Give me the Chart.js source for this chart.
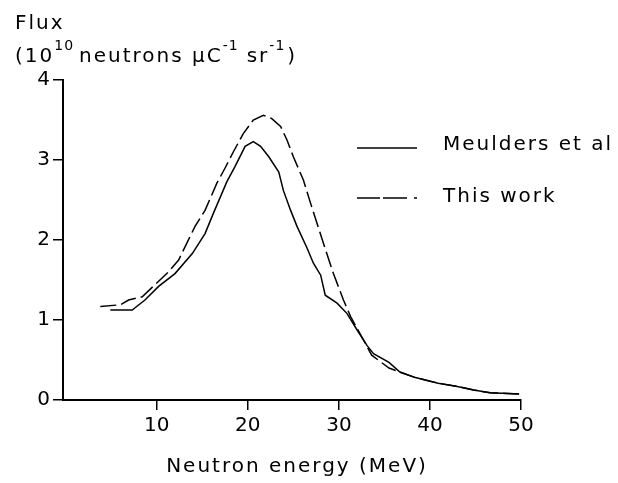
<!DOCTYPE html>
<html>
<head>
<meta charset="utf-8">
<script src="https://cdn.jsdelivr.net/npm/chart.js@4.4.1/dist/chart.umd.min.js"></script>
<style>
  html, body { margin: 0; padding: 0; background: #fff; }
  canvas { display: block; }
</style>
</head>
<body>
<canvas id="flux" width="618" height="483"></canvas>
<script>
// values
var meuldersEnergy = [4.9, 7.3, 8.7, 10.2, 12.0, 13.9, 15.3, 16.2, 17.7, 18.6, 19.7, 20.6, 21.4, 22.3, 23.4, 23.9, 24.7, 25.4, 26.5, 27.2, 28.0, 28.5, 29.8, 30.9, 32.0, 33.1, 33.8, 35.5, 36.7, 38.4, 40.9, 43.0, 44.8, 46.6, 49.8];
var meuldersFlux = [1.125, 1.125, 1.25, 1.42, 1.58, 1.83, 2.08, 2.33, 2.73, 2.92, 3.17, 3.23, 3.17, 3.04, 2.85, 2.62, 2.37, 2.17, 1.90, 1.71, 1.56, 1.31, 1.21, 1.08, 0.875, 0.68, 0.58, 0.47, 0.35, 0.28, 0.21, 0.17, 0.125, 0.09, 0.075];

var thisWorkEnergy = [3.8, 6.0, 6.9, 8.4, 9.6, 11.1, 12.4, 13.3, 14.2, 15.3, 16.6, 17.5, 18.4, 19.5, 20.6, 21.7, 22.6, 23.6, 24.3, 25.0, 26.1, 27.0, 28.3, 29.4, 30.5, 31.3, 32.7, 33.6, 35.5, 36.7, 38.4, 40.9, 43.0, 44.8, 46.6, 49.8];
var thisWorkFlux = [1.17, 1.19, 1.25, 1.29, 1.42, 1.58, 1.75, 1.96, 2.17, 2.37, 2.71, 2.90, 3.10, 3.33, 3.50, 3.56, 3.52, 3.42, 3.25, 3.04, 2.75, 2.42, 1.96, 1.58, 1.25, 1.04, 0.75, 0.56, 0.40, 0.35, 0.28, 0.21, 0.17, 0.125, 0.09, 0.075];

var xTicks = [10, 20, 30, 40, 50];
var yTicks = [0, 1, 2, 3, 4];
var seriesNames = ['Meulders et al', 'This work'];

var font = "'DejaVu Sans', sans-serif";

function toPoints(xs, ys) {
  return xs.map(function(x, i) { return { x: x, y: ys[i] }; });
}

function fixedTicks(values) {
  return function(scale) {
    scale.ticks = values.map(function(v) { return { value: v }; });
  };
}

// text with a little letter spacing, like the old bitmap font; returns end x
function spaced(ctx, text, x, y, size) {
  ctx.font = size + 'px ' + font;
  ctx.letterSpacing = size > 15 ? '2px' : '1px';
  ctx.fillText(text, x, y);
  return x + ctx.measureText(text).width;
}

var annotations = {
  id: 'annotations',
  afterDraw: function(chart) {
    var ctx = chart.ctx;
    ctx.save();
    ctx.fillStyle = '#000';
    ctx.textBaseline = 'alphabetic';
    ctx.textAlign = 'left';

    // y title, two lines
    spaced(ctx, 'Flux', 15, 29, 20);
    var x = spaced(ctx, '(10', 15, 62, 20);
    x = spaced(ctx, '10', x, 50, 14) + 5;
    x = spaced(ctx, 'neutrons μC', x, 62, 20);
    x = spaced(ctx, '-1', x, 50, 14) + 8;
    x = spaced(ctx, 'sr', x, 62, 20);
    x = spaced(ctx, '-1', x, 50, 14);
    spaced(ctx, ')', x + 2, 62, 20);

    // x title
    ctx.font = '20px ' + font;
    ctx.letterSpacing = '2px';
    ctx.textAlign = 'center';
    ctx.fillText('Neutron energy (MeV)', 297, 472);

    // legend
    ctx.textAlign = 'left';
    ctx.fillText(seriesNames[0], 443, 150);
    ctx.fillText(seriesNames[1], 443, 202);
    ctx.strokeStyle = '#000';
    ctx.lineWidth = 1.5;
    ctx.beginPath();
    ctx.moveTo(357, 148); ctx.lineTo(417, 148);
    ctx.stroke();
    ctx.setLineDash([23, 3, 24, 7, 3, 100]);
    ctx.beginPath();
    ctx.moveTo(357, 198); ctx.lineTo(418, 198);
    ctx.stroke();
    ctx.restore();
  }
};

var axisStyle = {
  grid: { display: true, drawOnChartArea: false, drawTicks: true, tickLength: 10, color: '#000', lineWidth: 1.5 },
  border: { display: true, color: '#000', width: 2 },
};

new Chart(document.getElementById('flux'), {
  type: 'line',
  data: {
    datasets: [
      {
        label: seriesNames[0],
        data: toPoints(meuldersEnergy, meuldersFlux),
        borderColor: '#000',
        borderWidth: 1.5,
        pointRadius: 0,
        tension: 0,
        fill: false,
      },
      {
        label: seriesNames[1],
        data: toPoints(thisWorkEnergy, thisWorkFlux),
        borderColor: '#000',
        borderWidth: 1.5,
        borderDash: [16, 5],
        pointRadius: 0,
        tension: 0,
        fill: false,
      }
    ]
  },
  options: {
    responsive: false,
    animation: false,
    layout: { padding: { left: 0, right: 97, top: 80, bottom: 0 } },
    plugins: { legend: { display: false }, tooltip: { enabled: false } },
    scales: {
      x: Object.assign({
        type: 'linear',
        min: -0.3,
        max: 50,
        afterBuildTicks: fixedTicks(xTicks),
        afterFit: function(scale) { scale.height = 83; },
        ticks: { color: '#000', font: { family: font, size: 20 }, padding: 4, maxRotation: 0 },
      }, axisStyle),
      y: Object.assign({
        type: 'linear',
        min: 0,
        max: 4,
        afterBuildTicks: fixedTicks(yTicks),
        afterFit: function(scale) { scale.width = 63; },
        ticks: { color: '#000', font: { family: font, size: 20 }, padding: 3 },
      }, axisStyle),
    }
  },
  plugins: [annotations]
});
</script>
</body>
</html>
